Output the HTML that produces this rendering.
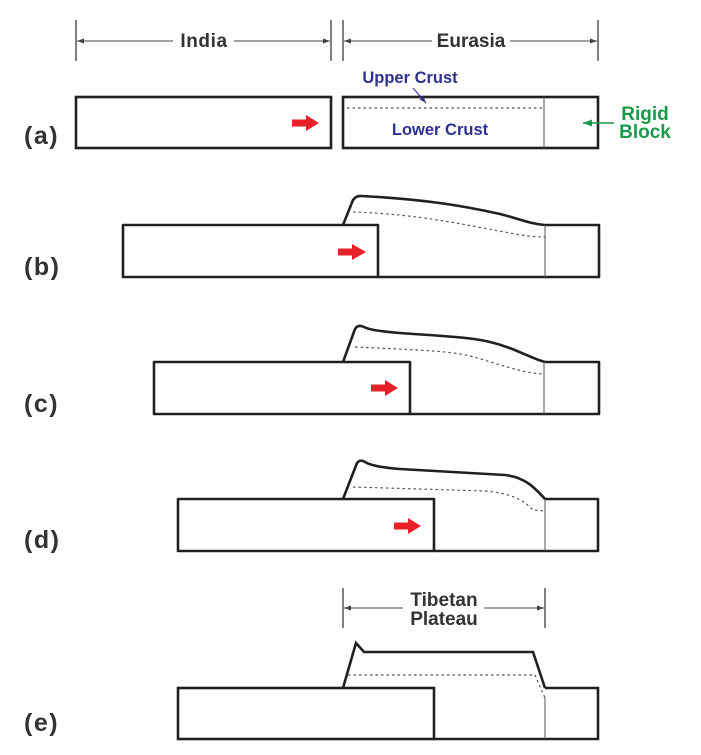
<!DOCTYPE html>
<html>
<head>
<meta charset="utf-8">
<style>
html,body{margin:0;padding:0;background:#fff;}
svg{display:block;}
text{font-family:"Liberation Sans",Arial,sans-serif;font-weight:bold;}
</style>
</head>
<body>
<svg width="701" height="755" viewBox="0 0 701 755" xmlns="http://www.w3.org/2000/svg">
<defs>
<marker id="ah" markerWidth="8" markerHeight="6" refX="7" refY="3" orient="auto" markerUnits="userSpaceOnUse">
<path d="M0,0.5 L7,3 L0,5.5 Z" fill="#444"/>
</marker>
<marker id="ahb" markerWidth="8" markerHeight="6" refX="7" refY="3" orient="auto" markerUnits="userSpaceOnUse">
<path d="M0,0.5 L7,3 L0,5.5 Z" fill="#2e3192"/>
</marker>
<marker id="ahg" markerWidth="10" markerHeight="8" refX="9" refY="4" orient="auto" markerUnits="userSpaceOnUse">
<path d="M0,0.5 L9,4 L0,7.5 Z" fill="#1a9a4a"/>
</marker>
</defs>

<!-- Dimension lines top -->
<g stroke="#555" stroke-width="1.5" fill="none">
<line x1="76" y1="20" x2="76" y2="61"/>
<line x1="331" y1="20" x2="331" y2="61"/>
<line x1="343" y1="20" x2="343" y2="61"/>
<line x1="598" y1="20" x2="598" y2="61"/>
</g>
<g stroke="#444" stroke-width="1" fill="none">
<line x1="173" y1="41" x2="77" y2="41" marker-end="url(#ah)"/>
<line x1="234" y1="41" x2="330" y2="41" marker-end="url(#ah)"/>
<line x1="432" y1="41" x2="344" y2="41" marker-end="url(#ah)"/>
<line x1="510" y1="41" x2="597" y2="41" marker-end="url(#ah)"/>
</g>
<text x="204" y="47" font-size="19" fill="#333" text-anchor="middle" letter-spacing="0.6">India</text>
<text x="471" y="47" font-size="19" fill="#333" text-anchor="middle">Eurasia</text>

<!-- Panel labels -->
<g font-size="25" fill="#333" letter-spacing="1.5">
<text x="24" y="144">(a)</text>
<text x="24" y="275">(b)</text>
<text x="24" y="412">(c)</text>
<text x="24" y="548">(d)</text>
<text x="24" y="731">(e)</text>
</g>

<!-- Panel (a) -->
<g fill="none" stroke="#231f20" stroke-width="2.6">
<rect x="76" y="97" width="255" height="51"/>
<rect x="343" y="97" width="255" height="51"/>
</g>
<line x1="544" y1="97" x2="544" y2="148" stroke="#555" stroke-width="1"/>
<line x1="347" y1="108" x2="543" y2="108" stroke="#555" stroke-width="1.2" stroke-dasharray="2.5,3"/>
<text x="410" y="83" font-size="16.5" fill="#2e3192" text-anchor="middle">Upper Crust</text>
<line x1="413" y1="88" x2="426" y2="103" stroke="#2e3192" stroke-width="1" marker-end="url(#ahb)"/>
<text x="440" y="135" font-size="16.5" fill="#2e3192" text-anchor="middle">Lower Crust</text>
<text x="645" y="120" font-size="19" fill="#1a9a4a" text-anchor="middle">Rigid</text>
<text x="645" y="138" font-size="19" fill="#1a9a4a" text-anchor="middle">Block</text>
<line x1="614" y1="123" x2="583" y2="123" stroke="#1a9a4a" stroke-width="1.5" marker-end="url(#ahg)"/>

<!-- Red arrows -->
<g fill="#e8202a">
<path d="M292,119.5 L306,119.5 L306,115 L319,123 L306,131 L306,126.5 L292,126.5 Z"/>
<path d="M338,248.5 L352,248.5 L352,244 L366,252 L352,260 L352,255.5 L338,255.5 Z"/>
<path d="M371,384.5 L385,384.5 L385,380 L398,388 L385,396 L385,391.5 L371,391.5 Z"/>
<path d="M394,522.5 L408,522.5 L408,518 L421,526 L408,534 L408,529.5 L394,529.5 Z"/>
</g>

<!-- Panel (b) -->
<g fill="none" stroke="#231f20" stroke-width="2.6" stroke-linejoin="round">
<path d="M378,277 L599,277 L599,225 L545,225"/>
<path d="M343,225 L353,200 Q356,195.5 362,196 C420,199 460,205 500,214 C520,219 530,224 545,225"/>
<rect x="123" y="225" width="255" height="52"/>
</g>
<line x1="545" y1="225" x2="545" y2="277" stroke="#555" stroke-width="1"/>
<path d="M353,212 C420,214 470,226 510,233 C525,236 535,237 545,237" fill="none" stroke="#555" stroke-width="1.2" stroke-dasharray="2.5,3"/>

<!-- Panel (c) -->
<g fill="none" stroke="#231f20" stroke-width="2.6" stroke-linejoin="round">
<path d="M410,414 L599,414 L599,362 L545,362"/>
<path d="M343,362 L355,329 Q358,324 364,327 Q372,331 400,333 C440,336 470,337 490,342 C515,348 530,358 545,362"/>
<rect x="154" y="362" width="256" height="52"/>
</g>
<line x1="544" y1="362" x2="544" y2="414" stroke="#555" stroke-width="1"/>
<path d="M355,347 C420,350 450,351 470,356 C500,364 520,373 544,374" fill="none" stroke="#555" stroke-width="1.2" stroke-dasharray="2.5,3"/>

<!-- Panel (d) -->
<g fill="none" stroke="#231f20" stroke-width="2.6" stroke-linejoin="round">
<path d="M434,551 L598,551 L598,499 L545,499"/>
<path d="M343,499 L357,463 Q360,459 365,462 Q373,467 400,469 L505,475 C525,477 535,488 545,499"/>
<rect x="178" y="499" width="256" height="52"/>
</g>
<line x1="545" y1="499" x2="545" y2="551" stroke="#555" stroke-width="1"/>
<path d="M353,487 L485,491 C510,493 524,500 533,510 L545,511" fill="none" stroke="#555" stroke-width="1.2" stroke-dasharray="2.5,3"/>

<!-- Panel (e) -->
<g stroke="#555" stroke-width="1.5" fill="none">
<line x1="343" y1="588" x2="343" y2="628"/>
<line x1="545" y1="588" x2="545" y2="628"/>
</g>
<g stroke="#444" stroke-width="1" fill="none">
<line x1="403" y1="608" x2="344" y2="608" marker-end="url(#ah)"/>
<line x1="484" y1="608" x2="544" y2="608" marker-end="url(#ah)"/>
</g>
<text x="444" y="606" font-size="19" fill="#333" text-anchor="middle">Tibetan</text>
<text x="444" y="625" font-size="19" fill="#333" text-anchor="middle">Plateau</text>
<g fill="none" stroke="#231f20" stroke-width="2.6" stroke-linejoin="miter">
<path d="M434,739 L598,739 L598,688 L545,688"/>
<path d="M343,688 L356,643 L364,652 L533,652 L545,688"/>
<rect x="178" y="688" width="256" height="51"/>
</g>
<line x1="545" y1="697" x2="545" y2="739" stroke="#555" stroke-width="1"/>
<path d="M348,675 L535,675 L545,698" fill="none" stroke="#555" stroke-width="1.2" stroke-dasharray="2.5,3"/>
</svg>
</body>
</html>
